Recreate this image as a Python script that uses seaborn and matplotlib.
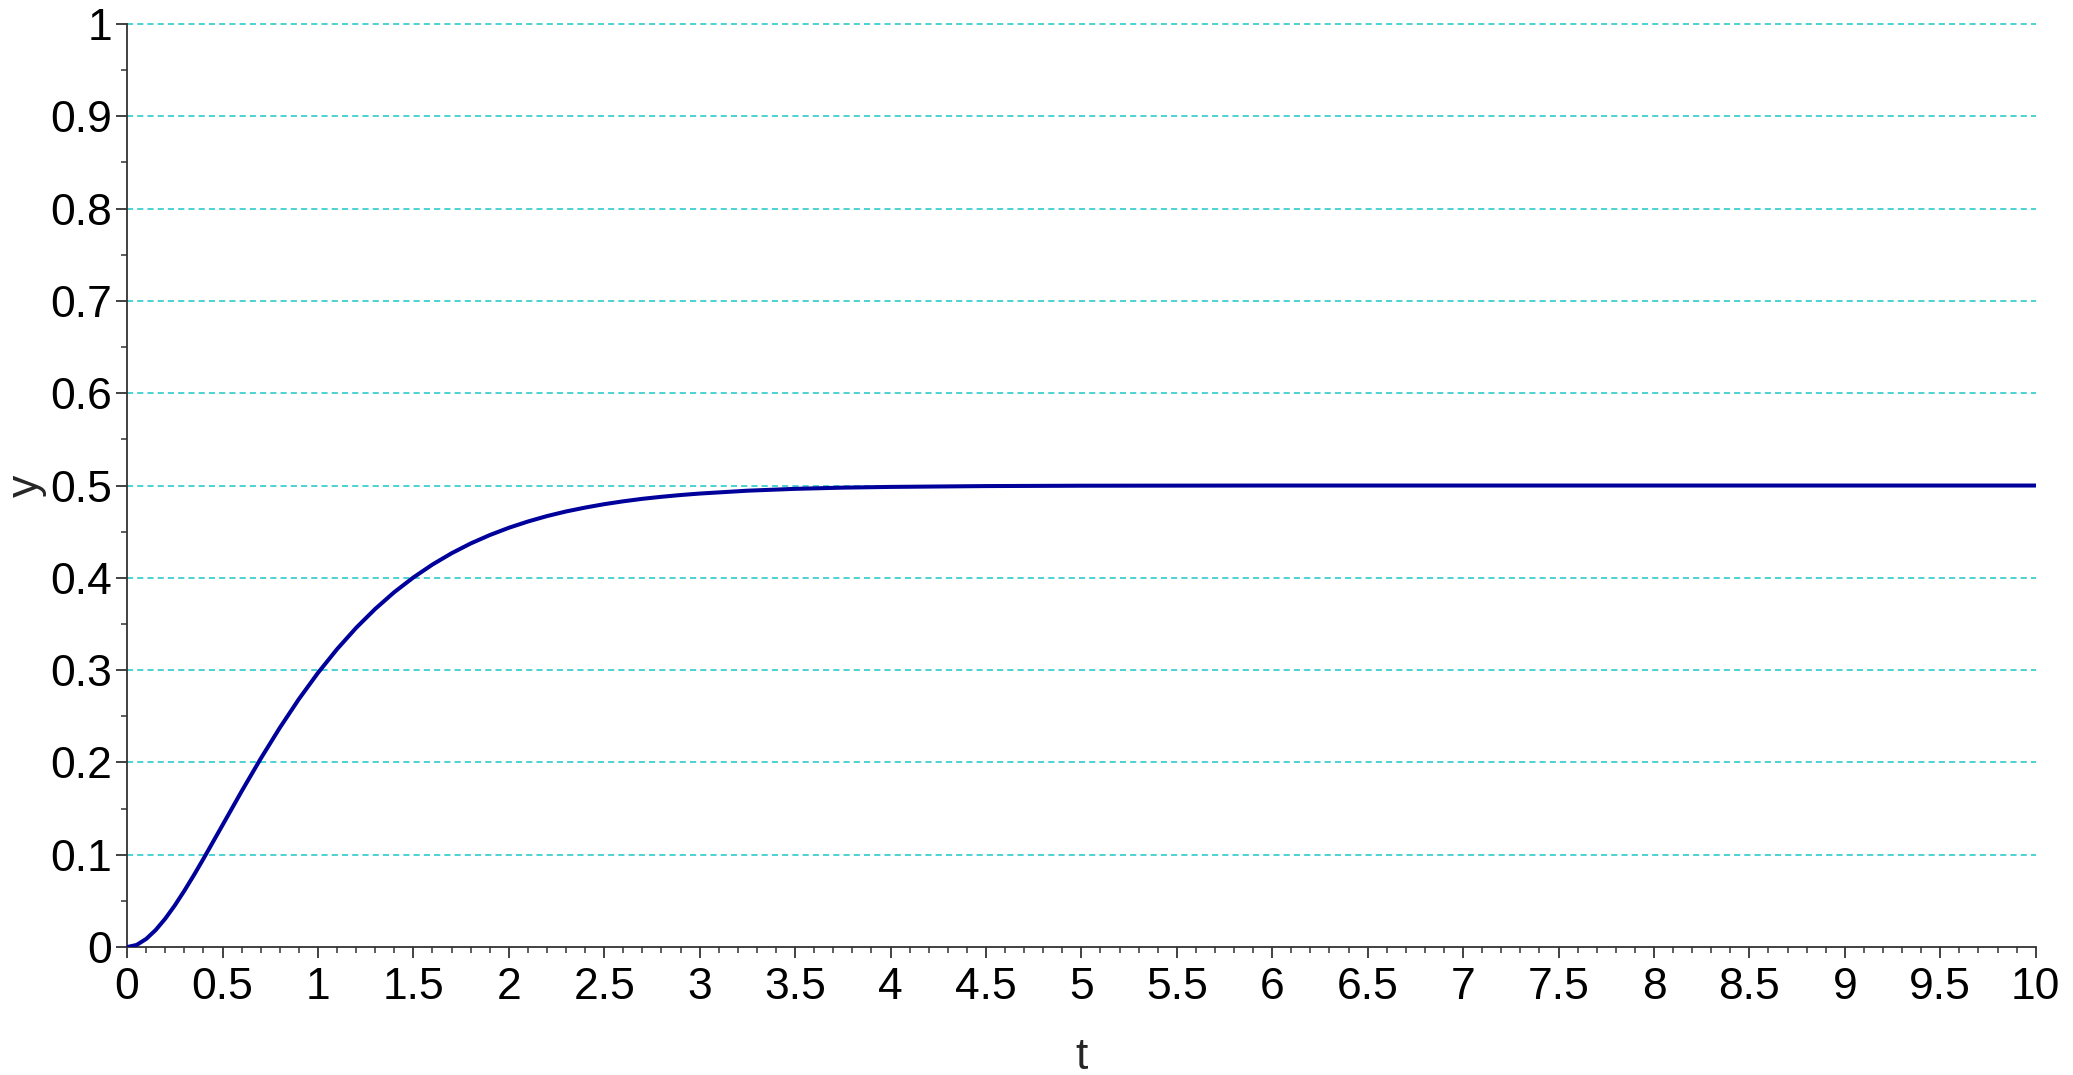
import matplotlib
matplotlib.use("Agg")
import matplotlib.pyplot as plt
from matplotlib.ticker import MultipleLocator
import seaborn as sns
import pandas as pd

# Step response samples
t_values = [0.0, 0.05, 0.1, 0.15, 0.2, 0.25, 0.3, 0.35, 0.4, 0.5, 0.6, 0.7, 0.8, 0.9,
            1.0, 1.1, 1.2, 1.3, 1.4, 1.5, 1.6, 1.7, 1.8, 1.9,
            2.0, 2.1, 2.2, 2.3, 2.4, 2.5, 2.6, 2.7, 2.8, 2.9, 3.0, 3.25, 3.5, 3.75,
            4.0, 4.5, 5.0, 6.0, 7.0, 8.0, 9.0, 10.0]
y_values = [0.0, 0.0023, 0.0088, 0.0185, 0.0308, 0.0451, 0.0610, 0.0779, 0.0956,
            0.1321, 0.1687, 0.2041, 0.2375, 0.2686,
            0.2970, 0.3227, 0.3458, 0.3663, 0.3845, 0.4004, 0.4144, 0.4266, 0.4372, 0.4463,
            0.4542, 0.4610, 0.4669, 0.4719, 0.4761, 0.4798, 0.4829, 0.4856, 0.4878, 0.4897,
            0.4913, 0.4944, 0.4964, 0.4977,
            0.4985, 0.4994, 0.4998, 0.5000, 0.5000, 0.5000, 0.5000, 0.5000]

x_ticks = [0, 0.5, 1, 1.5, 2, 2.5, 3, 3.5, 4, 4.5, 5, 5.5, 6, 6.5, 7, 7.5, 8, 8.5, 9, 9.5, 10]
x_tick_labels = ["0", "0.5", "1", "1.5", "2", "2.5", "3", "3.5", "4", "4.5", "5",
                 "5.5", "6", "6.5", "7", "7.5", "8", "8.5", "9", "9.5", "10"]
y_ticks = [0, 0.1, 0.2, 0.3, 0.4, 0.5, 0.6, 0.7, 0.8, 0.9, 1]
y_tick_labels = ["0", "0.1", "0.2", "0.3", "0.4", "0.5", "0.6", "0.7", "0.8", "0.9", "1"]

df = pd.DataFrame({"t": t_values, "y": y_values})

sns.set_theme(style="white")
plt.rcParams["font.family"] = ["Liberation Sans", "DejaVu Sans"]

fig = plt.figure(figsize=(20.73, 10.75), dpi=100)
ax = fig.add_axes([0.0613, 0.119, 0.9207, 0.8587])

# horizontal dashed guides at the major y ticks
for yt in y_ticks[1:]:
    ax.axhline(yt, color="#1cc6c6", linestyle=(0, (4, 2.7)), linewidth=1.1,
               zorder=1, clip_on=False)

sns.lineplot(data=df, x="t", y="y", ax=ax, color="#00009a", linewidth=2.9, zorder=3)

ax.set_xlim(0, 10)
ax.set_ylim(0, 1)
ax.set_xticks(x_ticks)
ax.set_xticklabels(x_tick_labels)
ax.set_yticks(y_ticks)
ax.set_yticklabels(y_tick_labels)
ax.xaxis.set_minor_locator(MultipleLocator(0.1))
ax.yaxis.set_minor_locator(MultipleLocator(0.05))

ax.tick_params(axis="both", which="major", direction="out", length=8, width=1.3,
               color="#333333", labelsize=32, labelcolor="black")
ax.tick_params(axis="both", which="minor", direction="out", length=4, width=1.1,
               color="#333333")
ax.tick_params(axis="x", which="both", bottom=True, pad=6)
ax.tick_params(axis="y", which="both", left=True, pad=3)

for side in ["top", "right"]:
    ax.spines[side].set_visible(False)
for side in ["left", "bottom"]:
    ax.spines[side].set_color("#333333")
    ax.spines[side].set_linewidth(1.3)

ax.set_xlabel("t", fontsize=32, labelpad=21)
ax.set_ylabel("y", fontsize=32, labelpad=2)

fig.savefig("out.png", dpi=100)
